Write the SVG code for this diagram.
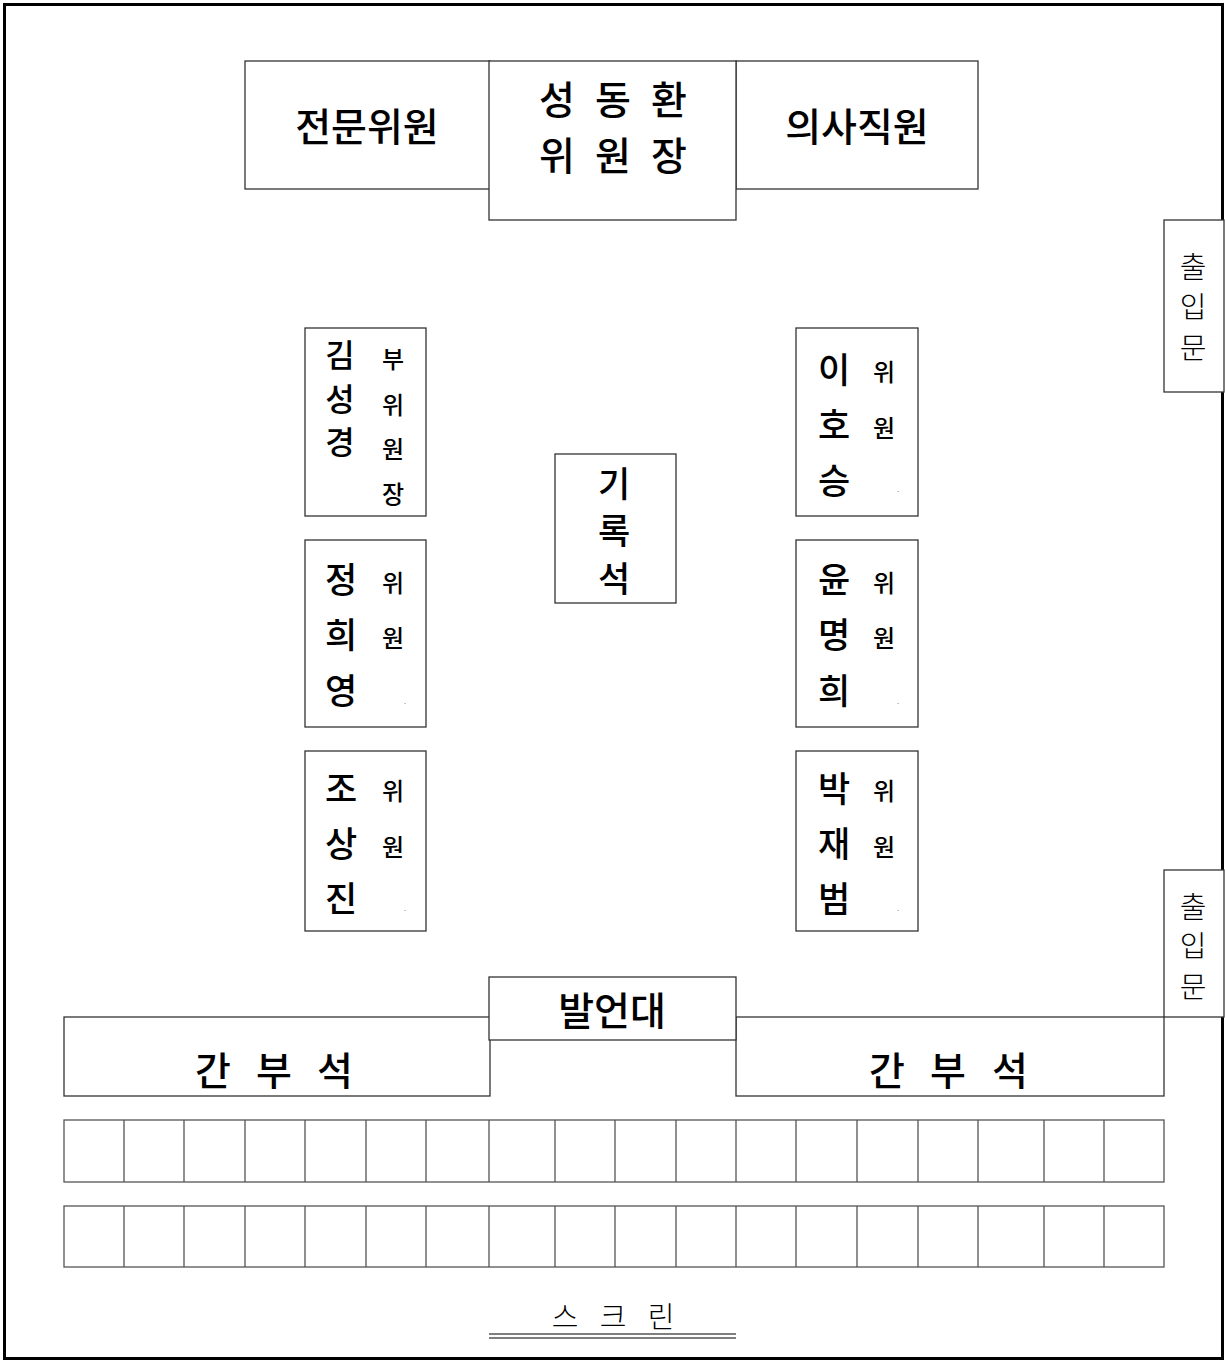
<svg xmlns="http://www.w3.org/2000/svg" width="1225" height="1361" viewBox="0 0 1225 1361">
<style>
  .bx{fill:#fff;stroke:#333;stroke-width:1.3}
  .cell{fill:none;stroke:#555;stroke-width:1.3}
  text{font-family:"Noto Sans CJK KR","Noto Sans",sans-serif;fill:#000;text-anchor:middle;dominant-baseline:central}
  .t36{font-size:39px;font-weight:500}
  .rec{font-size:35px;font-weight:500}
  .big{font-size:35px;font-weight:500}
  .kim{font-size:32px;font-weight:500}
  .sm{font-size:24px;font-weight:500}
  .door{font-size:29px;font-weight:300}
  .scr{font-size:29px;font-weight:300}
  .dot{font-size:6px}
</style>
<rect x="0" y="0" width="1225" height="1361" fill="#fff"/>
<rect x="4.5" y="4.5" width="1218" height="1354" fill="none" stroke="#000" stroke-width="3"/>

<g id="expert">
  <rect class="bx" x="245" y="61" width="245" height="128"/>
  <text class="t36" x="367" y="124">전문위원</text>
</g>
<g id="staff">
  <rect class="bx" x="736" y="61" width="242" height="128"/>
  <text class="t36" x="857" y="124">의사직원</text>
</g>
<g id="chair">
  <rect class="bx" x="489" y="61" width="247" height="159"/>
  <text class="t36" x="557 585 613 641 669" y="97">성 동 환</text>
  <text class="t36" x="557 585 613 641 669" y="153">위 원 장</text>
</g>

<g id="door1">
  <rect class="bx" x="1164" y="220" width="60" height="172"/>
  <text class="door" x="1193" y="265">출</text>
  <text class="door" x="1193" y="305">입</text>
  <text class="door" x="1193" y="346">문</text>
</g>
<g id="door2">
  <rect class="bx" x="1164" y="870" width="60" height="147"/>
  <text class="door" x="1193" y="905">출</text>
  <text class="door" x="1193" y="944">입</text>
  <text class="door" x="1193" y="985">문</text>
</g>

<g id="kim">
  <rect class="bx" x="305" y="328" width="121" height="188"/>
  <text class="kim" x="340" y="353">김</text>
  <text class="kim" x="340" y="397">성</text>
  <text class="kim" x="340" y="440">경</text>
  <text class="sm" x="393" y="357">부</text>
  <text class="sm" x="393" y="403">위</text>
  <text class="sm" x="393" y="447">원</text>
  <text class="sm" x="393" y="492">장</text>
</g>
<g id="jung">
  <rect class="bx" x="305" y="540" width="121" height="187"/>
  <text class="big" x="341" y="577">정</text>
  <text class="big" x="341" y="632">희</text>
  <text class="big" x="341" y="688">영</text>
  <text class="sm" x="393" y="581">위</text>
  <text class="sm" x="393" y="636">원</text>
  <text class="dot" x="405" y="701">.</text>
</g>
<g id="cho">
  <rect class="bx" x="305" y="751" width="121" height="180"/>
  <text class="big" x="341" y="786">조</text>
  <text class="big" x="341" y="841">상</text>
  <text class="big" x="341" y="896">진</text>
  <text class="sm" x="393" y="789">위</text>
  <text class="sm" x="393" y="845">원</text>
  <text class="dot" x="405" y="908">.</text>
</g>
<g id="recorder">
  <rect class="bx" x="555" y="454" width="121" height="149"/>
  <text class="rec" x="614" y="481">기</text>
  <text class="rec" x="614" y="528">록</text>
  <text class="rec" x="614" y="576">석</text>
</g>
<g id="lee">
  <rect class="bx" x="796" y="328" width="122" height="188"/>
  <text class="big" x="834" y="367">이</text>
  <text class="big" x="834" y="422">호</text>
  <text class="big" x="834" y="478">승</text>
  <text class="sm" x="884" y="370">위</text>
  <text class="sm" x="884" y="426">원</text>
  <text class="dot" x="898" y="489">.</text>
</g>
<g id="yoon">
  <rect class="bx" x="796" y="540" width="122" height="187"/>
  <text class="big" x="834" y="577">윤</text>
  <text class="big" x="834" y="632">명</text>
  <text class="big" x="834" y="688">희</text>
  <text class="sm" x="884" y="581">위</text>
  <text class="sm" x="884" y="636">원</text>
  <text class="dot" x="898" y="701">.</text>
</g>
<g id="park">
  <rect class="bx" x="796" y="751" width="122" height="180"/>
  <text class="big" x="834" y="786">박</text>
  <text class="big" x="834" y="841">재</text>
  <text class="big" x="834" y="896">범</text>
  <text class="sm" x="884" y="789">위</text>
  <text class="sm" x="884" y="845">원</text>
  <text class="dot" x="898" y="908">.</text>
</g>

<g id="officials-left">
  <rect class="bx" x="64" y="1017" width="426" height="79"/>
  <text class="t36" x="213 243.5 274 304.5 335" y="1068">간 부 석</text>
</g>
<g id="officials-right">
  <rect class="bx" x="736" y="1017" width="428" height="79"/>
  <text class="t36" x="887 917.5 948 979 1010" y="1068">간 부 석</text>
</g>
<g id="podium">
  <rect class="bx" x="489" y="977" width="247" height="63"/>
  <text class="t36" x="612" y="1008">발언대</text>
</g>

<g id="seats" class="cell">
  <rect x="64" y="1120" width="1100" height="62"/>
  <rect x="64" y="1206" width="1100" height="61"/>
  <path d="M124 1120V1182M184 1120V1182M245 1120V1182M305 1120V1182M366 1120V1182M426 1120V1182M489 1120V1182M555 1120V1182M615 1120V1182M676 1120V1182M736 1120V1182M796 1120V1182M857 1120V1182M918 1120V1182M978 1120V1182M1044 1120V1182M1104 1120V1182"/>
  <path d="M124 1206V1267M184 1206V1267M245 1206V1267M305 1206V1267M366 1206V1267M426 1206V1267M489 1206V1267M555 1206V1267M615 1206V1267M676 1206V1267M736 1206V1267M796 1206V1267M857 1206V1267M918 1206V1267M978 1206V1267M1044 1206V1267M1104 1206V1267"/>
</g>

<g id="screen">
  <text class="scr" x="565 589 613 637 661" y="1315">스 크 린</text>
  <path d="M489 1334H736M489 1338H736" stroke="#000" stroke-width="1.2" fill="none"/>
</g>
<g id="connectors"></g>
</svg>
